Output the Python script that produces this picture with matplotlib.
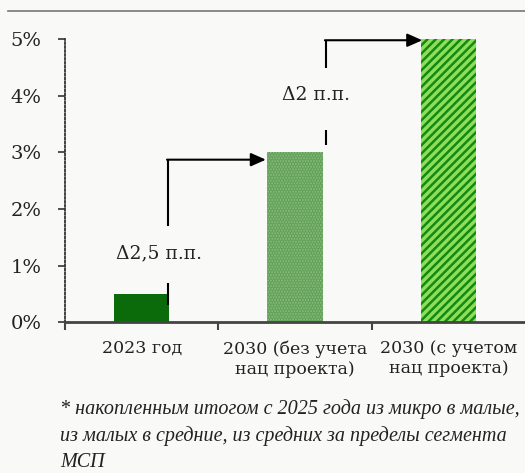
import matplotlib.pyplot as plt
from matplotlib.ticker import PercentFormatter

# values (share, %)
categories = ["2023 год", "2030 (без учета\nнац проекта)", "2030 (с учетом\nнац проекта)"]
values = [0.5, 3.0, 5.0]
deltas = ["Δ2,5 п.п.", "Δ2 п.п."]
footnote = ("* накопленным итогом с 2025 года из микро в малые,\n"
            "из малых в средние, из средних за пределы сегмента\n"
            "МСП")

BG = "#f9faf8"
plt.rcParams["font.family"] = ["DejaVu Serif"]
plt.rcParams["hatch.linewidth"] = 1.8

fig = plt.figure(figsize=(5.25, 4.73), dpi=100, facecolor=BG)
ax = fig.add_axes([0.1238, 0.319, 0.8762, 0.5983], facecolor=BG)

x = list(range(len(values)))
w = 0.36
ax.bar(x[0], values[0], w, color="#0b6b0b", linewidth=0)
ax.bar(x[1], values[1], w, color="#8fbd80", edgecolor="#5c9e55",
       hatch="......", linewidth=0)
ax.bar(x[2], values[2], w, color="#8ede5a", edgecolor="#138a13",
       hatch="////", linewidth=0)

ax.set_xlim(-0.5, 2.5)
ax.set_ylim(0, 5.0)
ax.yaxis.set_major_formatter(PercentFormatter(decimals=0))
ax.set_yticks(range(0, 6))
ax.set_xticks(x)
ax.set_xticklabels(categories, fontsize=12.5, linespacing=1.25, color="#222222")
ax.tick_params(axis="x", length=0, pad=13)
ax.set_xticks([-0.5, 0.5, 1.5], minor=True)
ax.tick_params(axis="x", which="minor", length=6, width=1.5, color="#444444")
ax.tick_params(axis="y", length=5, width=1.2, color="#333333", labelsize=14,
               labelcolor="#222222", pad=12)
for t in ax.yaxis.get_ticklines():
    t.set_linestyle((0, (1, 1.2)))

for s in ["top", "right"]:
    ax.spines[s].set_visible(False)
ax.spines["left"].set_linestyle((0, (1, 1.2)))
ax.spines["left"].set_color("#333333")
ax.spines["left"].set_linewidth(1.3)
ax.spines["bottom"].set_color("#444444")
ax.spines["bottom"].set_linewidth(2)

# elbow arrows with a gap for the label
arrows = [
    # x of vertical, lower seg, label y, upper seg start, arrow y, tip x
    (0.17, (0.30, 0.69), 1.22, 1.70, values[1] - 0.13, 0.81),
    (1.20, (3.13, 3.39), 4.01, 4.49, values[2] - 0.02, 1.83),
]
for (xv, low, ly, up0, ya, tip), lab in zip(arrows, deltas):
    ax.plot([xv, xv], low, color="black", lw=1.5, solid_capstyle="butt")
    ax.plot([xv, xv], [up0, ya], color="black", lw=1.5, solid_capstyle="butt")
    ax.annotate("", xy=(tip, ya), xytext=(xv - 0.005, ya),
                arrowprops=dict(arrowstyle="-|>,head_length=0.9,head_width=0.4",
                                color="black", lw=1.5, shrinkA=0, shrinkB=0))
    ax.text(xv - 0.06, ly, lab, ha="center", va="center", fontsize=13.5,
            color="#222222")

# top rule
fig.add_artist(plt.Line2D([8 / 525, 1], [1 - 11 / 473] * 2, color="#777777", lw=1.2))

fig.text(60 / 525, 1 - 399 / 473, footnote, fontsize=14.5, style="italic",
         family=["Liberation Serif", "DejaVu Serif"], color="#222222",
         va="top", ha="left", linespacing=1.5)

fig.savefig("out.png", dpi=100, facecolor=BG)
